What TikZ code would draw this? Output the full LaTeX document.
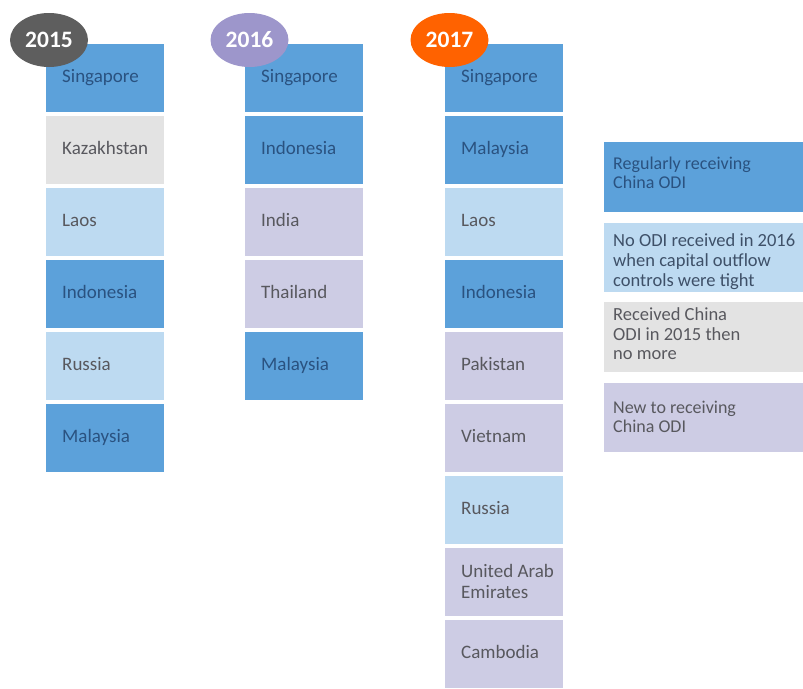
\documentclass[tikz,border=0pt]{standalone}
\usepackage{fontspec}
\setmainfont{Carlito}
\usetikzlibrary{shapes.geometric}
\definecolor{dblue}{HTML}{5CA1DA}
\definecolor{lblue}{HTML}{BDDAF1}
\definecolor{lgray}{HTML}{E3E3E3}
\definecolor{lav}{HTML}{CDCCE4}
\definecolor{tblue}{HTML}{2A5280}
\definecolor{tgray}{HTML}{58585E}
\definecolor{tslate}{HTML}{3E5068}
\definecolor{e15}{HTML}{5E5E5E}
\definecolor{e16}{HTML}{9D96CB}
\definecolor{e17}{HTML}{FF6200}
\begin{document}
\begin{tikzpicture}[x=1pt,y=-1pt,
  cbox/.style={rectangle, anchor=north west, inner xsep=16pt, inner ysep=0pt,
    text width=86pt, align=flush left, minimum height=67.5pt,
    font=\fontsize{19}{21}\selectfont},
  one/.style={text height=12.2pt, text depth=4pt},
  db/.style={cbox, one, fill=dblue, text=tblue},
  lb/.style={cbox, one, fill=lblue, text=tgray},
  gr/.style={cbox, one, fill=lgray, text=tgray},
  lv/.style={cbox, one, fill=lav, text=tgray},
  yearell/.style={ellipse, minimum width=78pt, minimum height=54pt, inner sep=0pt,
    text=white, font=\fontsize{23.5}{24}\selectfont\bfseries},
  legbox/.style={rectangle, anchor=north west, minimum width=199pt, minimum height=69.5pt, inner sep=0pt},
  legtext/.style={anchor=base west, inner sep=0pt, font=\fontsize{18.5}{20}\selectfont}
]
\useasboundingbox (0,0) rectangle (803,688);

% 2015
\node[db] (a1) at (46,44)  {Singapore};
\node[gr] (a2) at (46,116) {Kazakhstan};
\node[lb] (a3) at (46,188) {Laos};
\node[db] (a4) at (46,260) {Indonesia};
\node[lb] (a5) at (46,332) {Russia};
\node[db] (a6) at (46,404) {Malaysia};

% 2016
\node[db] (b1) at (245,44)  {Singapore};
\node[db] (b2) at (245,116) {Indonesia};
\node[lv] (b3) at (245,188) {India};
\node[lv] (b4) at (245,260) {Thailand};
\node[db] (b5) at (245,332) {Malaysia};

% 2017
\node[db] (c1) at (445,44)  {Singapore};
\node[db] (c2) at (445,116) {Malaysia};
\node[lb] (c3) at (445,188) {Laos};
\node[db] (c4) at (445,260) {Indonesia};
\node[lv] (c5) at (445,332) {Pakistan};
\node[lv] (c6) at (445,404) {Vietnam};
\node[lb] (c7) at (445,476) {Russia};
\node[cbox, fill=lav, text=tgray, inner xsep=0pt, text width=118pt]
  (c8) at (445,548) {\hspace*{16pt}United Arab\\\hspace*{16pt}Emirates};
\node[lv] (c9) at (445,620) {Cambodia};

% year badges
\node[yearell, fill=e15] (y15) at (49,40)    {2015};
\node[yearell, fill=e16] (y16) at (249.5,40) {2016};
\node[yearell, fill=e17] (y17) at (449.5,40) {2017};

% legend
\node[legbox, fill=dblue] (k1) at (604,142) {};
\node[legbox, fill=lblue] (k2) at (604,222.5) {};
\node[legbox, fill=lgray] (k3) at (604,302) {};
\node[legbox, fill=lav]   (k4) at (604,382.5) {};

\node[legtext, text=tblue, font=\fontsize{18}{18}\selectfont] (k1a) at (613,169) {Regularly receiving};
\node[legtext, text=tblue, font=\fontsize{18}{18}\selectfont] (k1b) at (613,188) {China ODI};

\node[legtext, text=tslate] (k2a) at (613,246) {No ODI received in 2016};
\node[legtext, text=tslate] (k2b) at (613,266) {when capital outflow};
\node[legtext, text=tslate] (k2c) at (613,286) {controls were tight};

\node[legtext, text=tgray] (k3a) at (613,320) {Received China};
\node[legtext, text=tgray] (k3b) at (613,340) {ODI in 2015 then};
\node[legtext, text=tgray] (k3c) at (613,359) {no more};

\node[legtext, text=tgray, font=\fontsize{18}{18}\selectfont] (k4a) at (613,413) {New to receiving};
\node[legtext, text=tgray, font=\fontsize{18}{18}\selectfont] (k4b) at (613,432) {China ODI};
\end{tikzpicture}
\end{document}
